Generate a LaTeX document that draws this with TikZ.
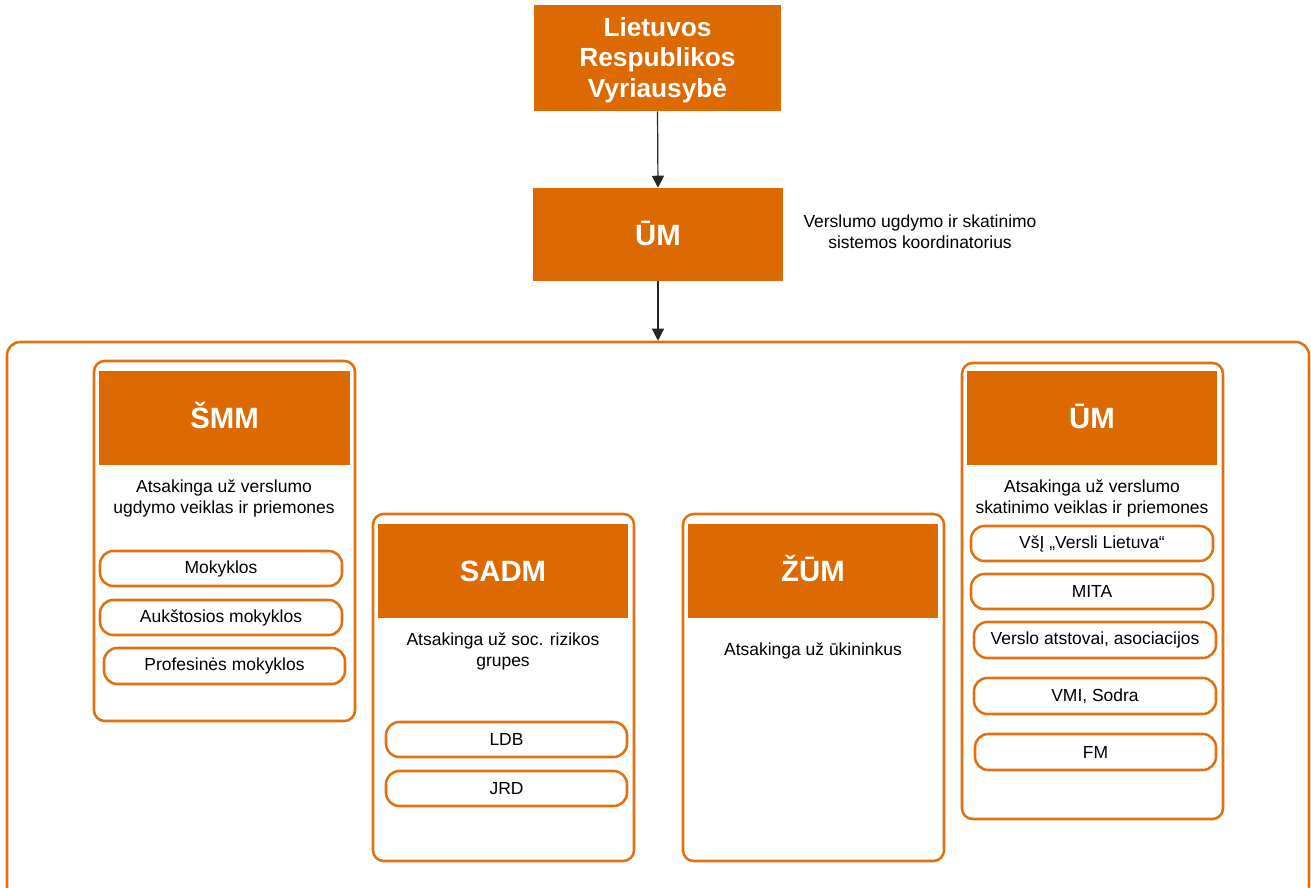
\documentclass[tikz,border=0pt]{standalone}
\usepackage{fontspec}
\setmainfont{Liberation Sans}
\usetikzlibrary{fit,arrows.meta}
\definecolor{orfill}{RGB}{221,106,0}
\definecolor{orline}{RGB}{224,112,16}
\tikzset{
  hdr/.style={fill=orfill, draw=none, inner sep=0pt},
  hdrtxt/.style={text=white, align=center, inner sep=0pt, text height=15.8pt, text depth=0pt, font=\fontsize{22}{25}\selectfont\bfseries},
  govtxt/.style={text=white, align=center, inner sep=0pt, font=\fontsize{19.7}{22.9}\selectfont\bfseries},
  card/.style={draw=orline, line width=1.9pt, rounded corners=8pt, inner sep=0pt},
  pill/.style={draw=orline, line width=1.9pt, rounded corners=10pt, inner sep=0pt},
  body/.style={align=center, inner sep=0pt, font=\fontsize{13.1}{15.75}\selectfont},
  conn/.style={draw=black!85, line width=0.9pt, -{Triangle[width=9pt,length=9pt]}}
}
\begin{document}
\begin{tikzpicture}[x=0.75pt,y=-0.75pt]
\useasboundingbox (0,0) rectangle (1311,888);
\clip (0,0) rectangle (1311,888);
% top boxes
\node[hdr, fit={(534,5)(781,111)}] (gov) {};
\node[govtxt] (govt) at ([yshift=-1.5pt]gov.center) {Lietuvos\\Respublikos\\Vyriausybė};
\node[hdr, fit={(533,188)(783,281)}] (um) {};
\node[hdrtxt] (umt) at (um.center) {ŪM};
\node[body] (coord) at (920,232) {Verslumo ugdymo ir skatinimo\\sistemos koordinatorius};
% container
\node[card, rounded corners=10pt, fit={(7,342)(1309,900)}] (cont) {};
\draw[conn] (gov.south) -- (um.north);
\draw[conn] (um.south) -- (cont.north -| um.south);
% SMM
\node[card, fit={(94,361)(355,721)}] (smm) {};
\node[hdr, fit={(99,371)(350,465)}] (smmh) {};
\node[hdrtxt] (smmht) at (smmh.center) {ŠMM};
\node[body] (smmt) at (224,498) {Atsakinga už verslumo\\ugdymo veiklas ir priemones};
\node[pill, fit={(100,551)(342,586)}] (mok) {};
\node[body] (mokt) at (mok.center) {Mokyklos};
\node[pill, fit={(100,600)(342,635)}] (auk) {};
\node[body] (aukt) at (auk.center) {Aukštosios mokyklos};
\node[pill, fit={(104,648)(345,684)}] (prof) {};
\node[body] (proft) at (prof.center) {Profesinės mokyklos};
% SADM
\node[card, fit={(373,514)(634,861)}] (sadm) {};
\node[hdr, fit={(378,524)(628,618)}] (sadmh) {};
\node[hdrtxt] (sadmht) at (sadmh.center) {SADM};
\node[body] (sadmt) at (503,651) {Atsakinga už soc. rizikos\\grupes};
\node[pill, fit={(386,722)(627,757)}] (ldb) {};
\node[body] (ldbt) at (ldb.center) {LDB};
\node[pill, fit={(386,771)(627,806)}] (jrd) {};
\node[body] (jrdt) at (jrd.center) {JRD};
% ZUM
\node[card, fit={(683,514)(944,861)}] (zum) {};
\node[hdr, fit={(688,524)(938,618)}] (zumh) {};
\node[hdrtxt] (zumht) at (zumh.center) {ŽŪM};
\node[body] (zumt) at (813,651) {Atsakinga už ūkininkus};
% UM right
\node[card, fit={(962,363)(1223,819)}] (umr) {};
\node[hdr, fit={(967,371)(1217,465)}] (umrh) {};
\node[hdrtxt] (umrht) at (umrh.center) {ŪM};
\node[body] (umrt) at (1092,498) {Atsakinga už verslumo\\skatinimo veiklas ir priemones};
\node[pill, fit={(971,526)(1213,561)}] (vsi) {};
\node[body] (vsit) at (vsi.center) {VšĮ „Versli Lietuva“};
\node[pill, fit={(971,574)(1213,609)}] (mita) {};
\node[body] (mitat) at (mita.center) {MITA};
\node[pill, fit={(974,622)(1216,658)}] (vers) {};
\node[body] (verst) at (vers.center) {Verslo atstovai, asociacijos};
\node[pill, fit={(974,678)(1216,714)}] (vmi) {};
\node[body] (vmit) at (vmi.center) {VMI, Sodra};
\node[pill, fit={(975,734)(1216,770)}] (fm) {};
\node[body] (fmt) at (fm.center) {FM};
\end{tikzpicture}
\end{document}
